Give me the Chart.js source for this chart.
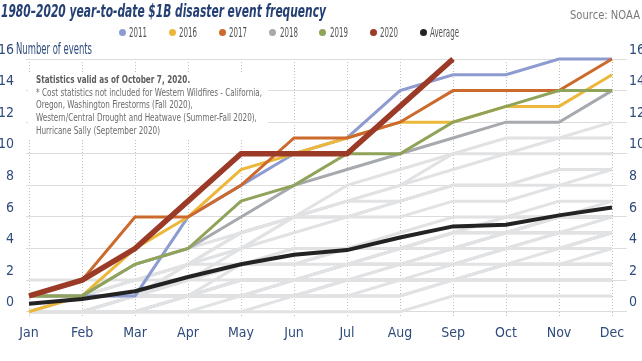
<!DOCTYPE html>
<html lang="en">
  <head>
    <meta charset="UTF-8" />
    <title>Billion-dollar disaster event frequency</title>
    <script src="https://cdn.jsdelivr.net/npm/chart.js"></script>
    <style>
      body {
        margin: 0;
        background: #fff;
        font-family: "Liberation Sans Narrow", "DejaVu Sans Condensed", sans-serif;
      }
      #wrap {
        position: relative;
        width: 642px;
        height: 361px;
        overflow: hidden;
      }
      .fit {
        position: absolute;
        white-space: nowrap;
        transform-origin: left top;
      }
      .title {
        left: 1px;
        top: 1px;
        font-size: 17px;
        font-weight: bold;
        font-style: italic;
        color: #243f73;
      }
      .source {
        left: 570px;
        top: 8px;
        font-size: 12px;
        color: #7a7a7a;
      }
      .dot {
        position: absolute;
        top: 28.5px;
        width: 7px;
        height: 7px;
        border-radius: 50%;
      }
      .leg {
        top: 23px;
        font-size: 14px;
        line-height: 18px;
        color: #555;
      }
      .ytitle {
        left: 16px;
        top: 40px;
        font-size: 15px;
        color: #2f4b7c;
      }
      .notebox {
        position: absolute;
        left: 28px;
        top: 73px;
        width: 240px;
        height: 66px;
        background: #fff;
      }
      .note {
        left: 36px;
        top: 74px;
        font-size: 11px;
        line-height: 12.7px;
        color: #6b6b6b;
      }
      .note b {
        color: #5e5e5e;
      }
    </style>
  </head>
  <body>
    <div id="wrap">
      <canvas id="chart"></canvas>
      <div class="fit title" id="title">1980–2020 year-to-date $1B disaster event frequency</div>
      <div class="fit source" id="source">Source: NOAA</div>
      <div class="fit ytitle" id="ytitle">Number of events</div>
      <div class="notebox"></div>
      <div class="fit note" id="note">
        <b>Statistics valid as of October 7, 2020.</b><br />
        <span id="longLine">* Cost statistics not included for Western Wildfires - California,</span><br />
        Oregon, Washington Firestorms (Fall 2020),<br />
        Western/Central Drought and Heatwave (Summer-Fall 2020),<br />
        Hurricane Sally (September 2020)
      </div>
    </div>

    <script>
      const months = ["Jan", "Feb", "Mar", "Apr", "May", "Jun", "Jul", "Aug", "Sep", "Oct", "Nov", "Dec"];

      const y2011 = [1, 1, 1, 6, 8, 10, 11, 14, 15, 15, 16, 16];
      const y2016 = [0, 1, 4, 6, 9, 10, 11, 12, 12, 13, 13, 15];
      const y2017 = [1, 2, 6, 6, 8, 11, 11, 12, 14, 14, 14, 16];
      const y2018 = [1, 1, 3, 4, 6, 8, 9, 10, 11, 12, 12, 14];
      const y2019 = [1, 1, 3, 4, 7, 8, 10, 10, 12, 13, 14, 14];
      const y2020 = [1, 2, 4, 7, 10, 10, 10, 13, 16];
      const average = [0.5, 0.8, 1.3, 2.2, 3.0, 3.6, 3.9, 4.7, 5.4, 5.5, 6.1, 6.6];

      // 1980-2010 and 2012-2015, drawn as light background lines
      const otherYears = [
        [0, 0, 0, 1, 1, 1, 2, 2, 2, 3, 3, 3],
        [0, 0, 1, 1, 1, 1, 1, 1, 2, 2, 2, 2],
        [0, 0, 0, 1, 2, 2, 2, 2, 2, 3, 3, 3],
        [0, 0, 1, 1, 1, 1, 2, 3, 3, 4, 4, 5],
        [0, 0, 1, 1, 2, 2, 2, 2, 2, 2, 2, 2],
        [0, 1, 1, 1, 2, 2, 3, 4, 4, 5, 6, 6],
        [0, 0, 0, 0, 1, 1, 2, 2, 2, 3, 3, 3],
        [0, 0, 0, 0, 0, 0, 0, 0, 1, 1, 1, 1],
        [0, 0, 0, 0, 0, 1, 1, 1, 2, 2, 2, 2],
        [0, 0, 1, 1, 2, 2, 2, 2, 3, 4, 4, 5],
        [1, 1, 1, 2, 3, 3, 3, 3, 3, 3, 4, 4],
        [0, 0, 0, 1, 1, 1, 1, 2, 2, 3, 3, 4],
        [0, 0, 0, 1, 2, 2, 3, 4, 5, 6, 6, 7],
        [0, 0, 1, 1, 1, 2, 3, 3, 4, 4, 5, 6],
        [0, 1, 2, 2, 2, 2, 3, 3, 3, 4, 4, 4],
        [0, 1, 1, 1, 2, 2, 3, 4, 4, 5, 5, 5],
        [0, 1, 1, 1, 2, 2, 3, 3, 4, 4, 4, 5],
        [1, 1, 2, 3, 3, 4, 4, 4, 4, 5, 5, 5],
        [0, 1, 1, 3, 5, 6, 6, 7, 8, 8, 8, 9],
        [0, 1, 1, 1, 3, 3, 4, 4, 5, 5, 6, 6],
        [0, 0, 0, 1, 1, 1, 2, 3, 3, 4, 4, 4],
        [0, 0, 0, 1, 1, 2, 2, 2, 2, 3, 3, 3],
        [0, 0, 0, 1, 2, 2, 3, 3, 4, 4, 5, 5],
        [0, 1, 1, 2, 3, 3, 4, 5, 6, 6, 7, 7],
        [0, 0, 0, 1, 1, 2, 3, 4, 5, 6, 6, 6],
        [0, 0, 1, 1, 1, 2, 3, 4, 5, 5, 6, 6],
        [0, 0, 1, 2, 3, 3, 4, 4, 5, 5, 6, 6],
        [0, 1, 1, 2, 3, 3, 4, 4, 4, 5, 5, 5],
        [2, 2, 2, 3, 5, 6, 7, 8, 10, 10, 11, 11],
        [0, 1, 3, 4, 5, 6, 7, 7, 8, 8, 9, 9],
        [0, 1, 1, 2, 3, 4, 4, 4, 4, 5, 5, 5],
        [0, 0, 1, 3, 5, 6, 8, 9, 10, 11, 11, 12],
        [0, 0, 1, 2, 4, 6, 6, 7, 8, 8, 9, 9],
        [0, 1, 2, 3, 4, 5, 6, 6, 7, 7, 8, 8],
        [1, 1, 2, 3, 4, 6, 7, 8, 9, 10, 10, 10],
      ];

      const yTicks = [0, 2, 4, 6, 8, 10, 12, 14, 16];

      const font = '"Liberation Sans Narrow", "DejaVu Sans Condensed", sans-serif';
      const navy = "#2f4b7c";

      function pts(values) {
        return values.map((v, i) => ({ x: i, y: v }));
      }

      function line(label, values, color, width) {
        return {
          label: label,
          data: pts(values),
          borderColor: color,
          backgroundColor: color,
          borderWidth: width,
          pointRadius: 0,
          tension: 0,
          clip: false,
        };
      }

      // first dataset is drawn on top
      const datasets = [
        line("2020", y2020, "#9c3a28", 5.5),
        line("Average", average, "#232323", 4),
        line("2019", y2019, "#8fa359", 3),
        line("2018", y2018, "#a6a9ad", 3),
        line("2017", y2017, "#cc6a2d", 3),
        line("2016", y2016, "#ecb83c", 3),
        line("2011", y2011, "#8d9bd0", 3),
      ];
      otherYears.forEach((v) => datasets.push(line("", v, "#e1e2e4", 3)));

      // squeeze html text to the width it has in the original
      function squeeze(el, width, ref) {
        const w = (ref || el).getBoundingClientRect().width;
        el.style.transform = `scaleX(${width / w})`;
        return width / w;
      }

      const wrap = document.getElementById("wrap");
      squeeze(document.getElementById("title"), 325);
      squeeze(document.getElementById("source"), 70);
      squeeze(document.getElementById("ytitle"), 76);
      squeeze(document.getElementById("note"), 226, document.getElementById("longLine"));

      // legend
      const legendOrder = ["2011", "2016", "2017", "2018", "2019", "2020", "Average"];
      let legScale = null;
      legendOrder.forEach((name, i) => {
        const ds = datasets.find((d) => d.label === name);
        const dot = document.createElement("div");
        dot.className = "dot";
        dot.style.left = 118.5 + i * 50.2 + "px";
        dot.style.background = ds.borderColor;
        wrap.appendChild(dot);
        const txt = document.createElement("div");
        txt.className = "fit leg";
        txt.style.left = 129 + i * 50.2 + "px";
        txt.textContent = name;
        wrap.appendChild(txt);
        if (legScale === null) legScale = squeeze(txt, 18);
        else txt.style.transform = `scaleX(${legScale})`;
      });

      const yAxis = {
        min: 0,
        max: 16,
        afterBuildTicks: (s) => {
          s.ticks = yTicks.map((v) => ({ value: v }));
        },
        ticks: {
          color: navy,
          font: { family: font, size: 14 },
          labelOffset: -9,
          padding: 12,
        },
        border: { display: false },
      };

      new Chart(document.getElementById("chart"), {
        type: "line",
        data: { datasets: datasets },
        options: {
          responsive: true,
          maintainAspectRatio: false,
          animation: false,
          events: [],
          layout: { padding: { top: 59 } },
          plugins: { legend: { display: false }, tooltip: { enabled: false } },
          scales: {
            x: {
              type: "linear",
              min: -0.057,
              max: 11.283,
              afterBuildTicks: (s) => {
                s.ticks = months.map((m, i) => ({ value: i }));
              },
              afterFit: (s) => {
                s.height = 49.3;
              },
              ticks: {
                color: navy,
                font: { family: font, size: 14 },
                padding: 7,
                maxRotation: 0,
                autoSkip: false,
                callback: (v) => months[v],
              },
              grid: {
                color: "#bdbdbd",
                lineWidth: 1,
                tickLength: 6,
                tickBorderDash: [1, 2],
              },
              border: { display: false, dash: [1, 2] },
            },
            y: Object.assign({}, yAxis, {
              position: "left",
              afterFit: (s) => {
                s.width = 26;
              },
              grid: { color: "#dcdcdc", lineWidth: 1, drawTicks: false },
            }),
            y2: Object.assign({}, yAxis, {
              position: "right",
              afterFit: (s) => {
                s.width = 15;
              },
              ticks: Object.assign({}, yAxis.ticks, { padding: 2 }),
              grid: { drawOnChartArea: false, drawTicks: false },
            }),
          },
        },
      });
    </script>
  </body>
</html>
